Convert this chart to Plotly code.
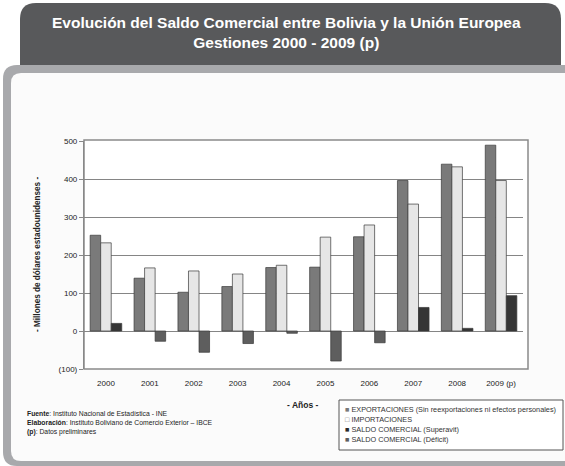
import plotly.graph_objects as go

W, H = 565, 466

years = ["2000", "2001", "2002", "2003", "2004", "2005", "2006", "2007", "2008", "2009 (p)"]
exportaciones = [252, 139, 102, 117, 167, 168, 248, 396, 439, 489]
importaciones = [232, 166, 158, 150, 173, 247, 279, 334, 432, 396]
saldo = [20, -27, -56, -33, -6, -79, -31, 62, 7, 93]

names = ["EXPORTACIONES (Sin reexportaciones ni efectos personales)",
         "IMPORTACIONES",
         "SALDO COMERCIAL (Superavit)",
         "SALDO COMERCIAL (Déficit)"]
colors = ["#7a7a7a", "#e6e6e6", "#353535", "#5e5e5e"]

y_ticks = [-100, 0, 100, 200, 300, 400, 500]
y_labels = ["(100)", "0", "100", "200", "300", "400", "500"]

superavit = [v if v >= 0 else None for v in saldo]
deficit = [v if v < 0 else None for v in saldo]

def X(p):
    return p / W

def Y(p):
    return 1 - p / H

FONT = "Liberation Sans, Arial, sans-serif"

fig = go.Figure()
edge = dict(color="#3a3a3a", width=0.7)
fig.add_trace(go.Bar(x=years, y=exportaciones, name=names[0], offsetgroup="a",
                     marker=dict(color=colors[0], line=edge)))
fig.add_trace(go.Bar(x=years, y=importaciones, name=names[1], offsetgroup="b",
                     marker=dict(color=colors[1], line=edge)))
fig.add_trace(go.Bar(x=years, y=superavit, name=names[2], offsetgroup="c",
                     marker=dict(color=colors[2], line=edge)))
fig.add_trace(go.Bar(x=years, y=deficit, name=names[3], offsetgroup="c",
                     marker=dict(color=colors[3], line=edge)))

def rounded_rect(x0, y0, x1, y1, r, top_only=False):
    if top_only:
        pts = (f"M {X(x0)},{Y(y1)} L {X(x0)},{Y(y0 + r)} "
               f"Q {X(x0)},{Y(y0)} {X(x0 + r)},{Y(y0)} "
               f"L {X(x1 - r)},{Y(y0)} Q {X(x1)},{Y(y0)} {X(x1)},{Y(y0 + r)} "
               f"L {X(x1)},{Y(y1)} Z")
    else:
        pts = (f"M {X(x0)},{Y(y1 - r)} L {X(x0)},{Y(y0 + r)} "
               f"Q {X(x0)},{Y(y0)} {X(x0 + r)},{Y(y0)} "
               f"L {X(x1 - r)},{Y(y0)} Q {X(x1)},{Y(y0)} {X(x1)},{Y(y0 + r)} "
               f"L {X(x1)},{Y(y1 - r)} Q {X(x1)},{Y(y1)} {X(x1 - r)},{Y(y1)} "
               f"L {X(x0 + r)},{Y(y1)} Q {X(x0)},{Y(y1)} {X(x0)},{Y(y1 - r)} Z")
    return pts

shapes = [
    dict(type="path", xref="paper", yref="paper", path=rounded_rect(20, 3, 561, 68, 16, True),
         fillcolor="#58595b", line=dict(width=0), layer="below"),
    dict(type="path", xref="paper", yref="paper", path=rounded_rect(3, 65, 580, 466, 14),
         fillcolor="#a8a9ac", line=dict(width=0), layer="below"),
    dict(type="path", xref="paper", yref="paper", path=rounded_rect(11, 73, 590, 461, 10),
         fillcolor="#fbfbfb", line=dict(width=0), layer="below"),
    dict(type="rect", xref="paper", yref="paper", x0=X(84), x1=X(528), y0=Y(369), y1=Y(140),
         fillcolor="#ffffff", line=dict(color="#8a8a8a", width=1.5), layer="below"),
    dict(type="rect", xref="paper", yref="paper", x0=X(339), x1=X(563), y0=Y(450), y1=Y(400),
         fillcolor="#ffffff", line=dict(color="#555555", width=1)),
]

annotations = [
    dict(text="<b>Evolución del Saldo Comercial entre Bolivia y la Unión Europea<br>Gestiones 2000 - 2009 (p)</b>",
         x=X(286), y=Y(33), xref="paper", yref="paper", xanchor="center", yanchor="middle",
         showarrow=False, font=dict(family=FONT, size=15.5, color="#ffffff"), align="center"),
    dict(text="<b>- Millones de dólares estadounidenses -</b>", x=X(38), y=Y(255),
         xref="paper", yref="paper", xanchor="center", yanchor="middle", showarrow=False,
         textangle=-90, font=dict(family=FONT, size=8.2, color="#222222")),
    dict(text="<b>- Años -</b>", x=X(302), y=Y(405), xref="paper", yref="paper",
         xanchor="center", yanchor="middle",
         showarrow=False, font=dict(family=FONT, size=8.5, color="#222222")),
    dict(text="<b>Fuente</b>: Instituto Nacional de Estadística - INE<br>"
              "<b>Elaboración</b>: Instituto Boliviano de Comercio Exterior – IBCE<br>"
              "<b>(p)</b>: Datos preliminares",
         x=X(25), y=Y(423), xref="paper", yref="paper", xanchor="left", yanchor="middle",
         showarrow=False, align="left", font=dict(family=FONT, size=6.8, color="#222222")),
]

marks = ["■", "□", "■", "■"]
mark_colors = ["#7a7a7a", "#7a7a7a", "#2a2a2a", "#5e5e5e"]
leg_y = [409, 419, 429, 439]
for i in range(4):
    annotations.append(dict(
        text=f"<span style='color:{mark_colors[i]}'>{marks[i]}</span> {names[i]}",
        x=X(343), y=Y(leg_y[i]), xref="paper", yref="paper", xanchor="left", yanchor="middle",
        showarrow=False, font=dict(family=FONT, size=7.3, color="#333333")))

fig.update_layout(
    width=W, height=H,
    margin=dict(l=0, r=0, t=0, b=0),
    paper_bgcolor="#ffffff",
    plot_bgcolor="rgba(0,0,0,0)",
    barmode="group", bargap=0.28, bargroupgap=0,
    showlegend=False,
    shapes=shapes, annotations=annotations,
    xaxis=dict(domain=[X(84), X(523)], type="category", showgrid=False, zeroline=False,
               ticks="", tickfont=dict(family=FONT, size=8, color="#222222"),
               ticklabelstandoff=8, automargin=False),
    yaxis=dict(domain=[Y(369), Y(141)], range=[-100, 500], tickvals=y_ticks, ticktext=y_labels,
               showgrid=True, gridcolor="#858585", gridwidth=1.4, zeroline=False,
               showline=True, linecolor="#888888", linewidth=1.2, ticks="outside",
               ticklen=4, tickcolor="#888888",
               tickfont=dict(family=FONT, size=8, color="#222222"), automargin=False),
)

fig.write_html("out.html", config={"displayModeBar": False},
               post_script="document.body.style.margin='0';")
